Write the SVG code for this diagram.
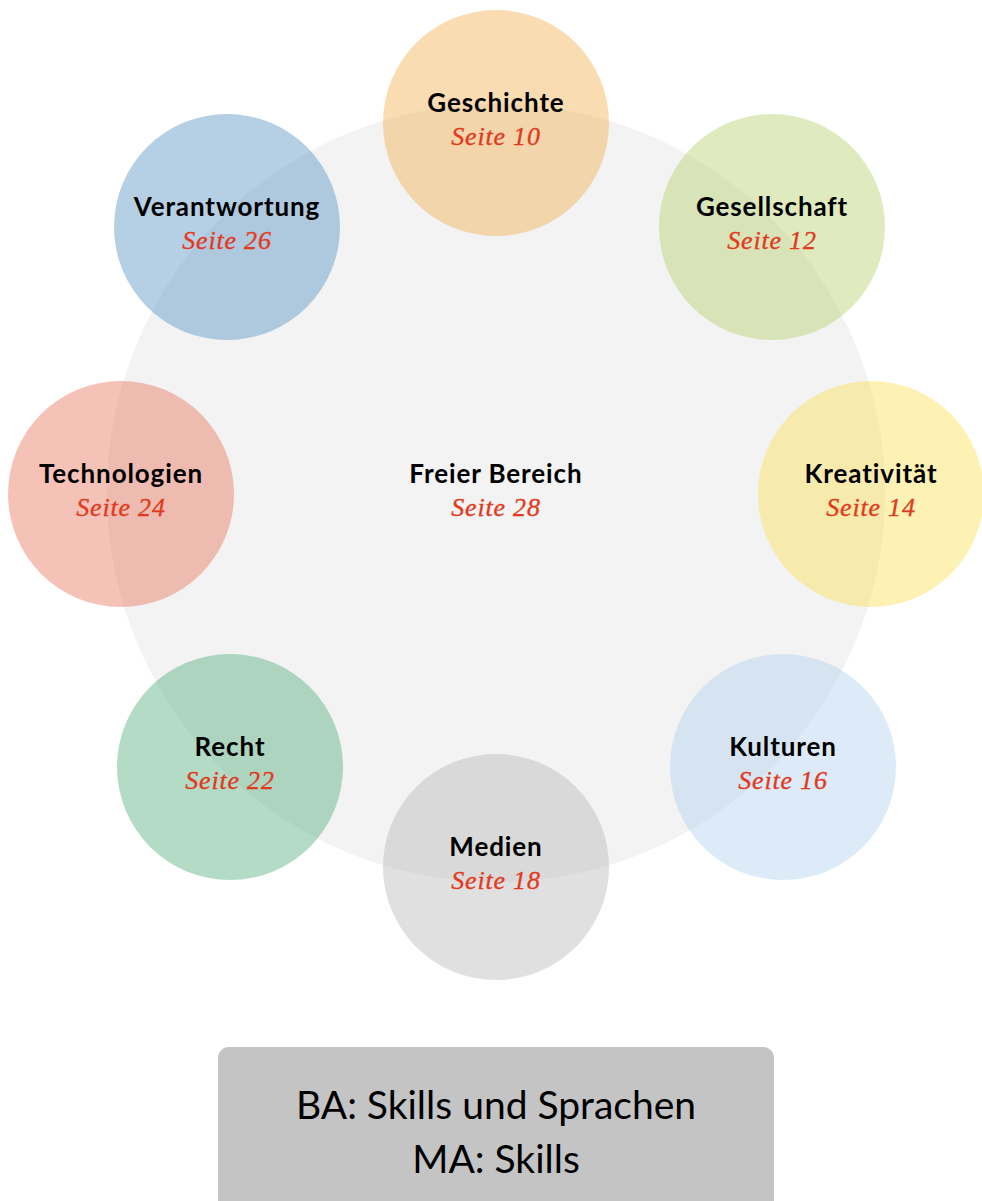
<svg xmlns="http://www.w3.org/2000/svg" width="982" height="1201" viewBox="0 0 982 1201">
<style>
.big{fill:#f3f3f3}
.sat{opacity:0.4}
.lbl{font-family:Lato,"Open Sans","DejaVu Sans",sans-serif;font-weight:700;font-size:26px;letter-spacing:0.9px;fill:#000;text-anchor:middle}
.pg{font-family:"Liberation Serif","DejaVu Serif",serif;font-style:italic;font-size:26px;letter-spacing:0.8px;fill:#e23a1d;stroke:#e23a1d;stroke-width:0.35px;text-anchor:middle}
.box{fill:#c4c4c4}
.boxt{font-family:Lato,"Open Sans","DejaVu Sans",sans-serif;font-size:39px;fill:#000;text-anchor:middle}
</style>
<rect width="982" height="1201" fill="#ffffff"/>
<g id="freier-bereich">
<circle class="big" cx="496" cy="493" r="389"/>
</g>
<g id="connectors"/>
<g id="geschichte">
<circle class="sat" cx="496" cy="123" r="113" fill="#f2a73e"/>
<text class="lbl" x="496" y="112">Geschichte</text>
<text class="pg" x="496" y="145">Seite 10</text>
</g>
<g id="gesellschaft">
<circle class="sat" cx="772" cy="227" r="113" fill="#afcd5f"/>
<text class="lbl" x="772" y="216">Gesellschaft</text>
<text class="pg" x="772" y="249">Seite 12</text>
</g>
<g id="kreativitaet">
<circle class="sat" cx="871" cy="494" r="113" fill="#fade41"/>
<text class="lbl" x="871" y="483">Kreativität</text>
<text class="pg" x="871" y="516">Seite 14</text>
</g>
<g id="kulturen">
<circle class="sat" cx="783" cy="767" r="113" fill="#a7cdeb"/>
<text class="lbl" x="783" y="756">Kulturen</text>
<text class="pg" x="783" y="789">Seite 16</text>
</g>
<g id="medien">
<circle class="sat" cx="496" cy="867" r="113" fill="#b1b1b1"/>
<text class="lbl" x="496" y="856">Medien</text>
<text class="pg" x="496" y="889">Seite 18</text>
</g>
<g id="recht">
<circle class="sat" cx="230" cy="767" r="113" fill="#41a570"/>
<text class="lbl" x="230" y="756">Recht</text>
<text class="pg" x="230" y="789">Seite 22</text>
</g>
<g id="technologien">
<circle class="sat" cx="121" cy="494" r="113" fill="#e6664d"/>
<text class="lbl" x="121" y="483">Technologien</text>
<text class="pg" x="121" y="516">Seite 24</text>
</g>
<g id="verantwortung">
<circle class="sat" cx="227" cy="227" r="113" fill="#4687be"/>
<text class="lbl" x="227" y="216">Verantwortung</text>
<text class="pg" x="227" y="249">Seite 26</text>
</g>
<g id="freier-bereich-label">
<text class="lbl" x="496" y="483">Freier Bereich</text>
<text class="pg" x="496" y="516">Seite 28</text>
</g>
<g id="skills-box">
<rect class="box" x="218" y="1047" width="556" height="170" rx="11" ry="11"/>
<text class="boxt" x="496" y="1119">BA: Skills und Sprachen</text>
<text class="boxt" x="496" y="1173">MA: Skills</text>
</g>
</svg>
